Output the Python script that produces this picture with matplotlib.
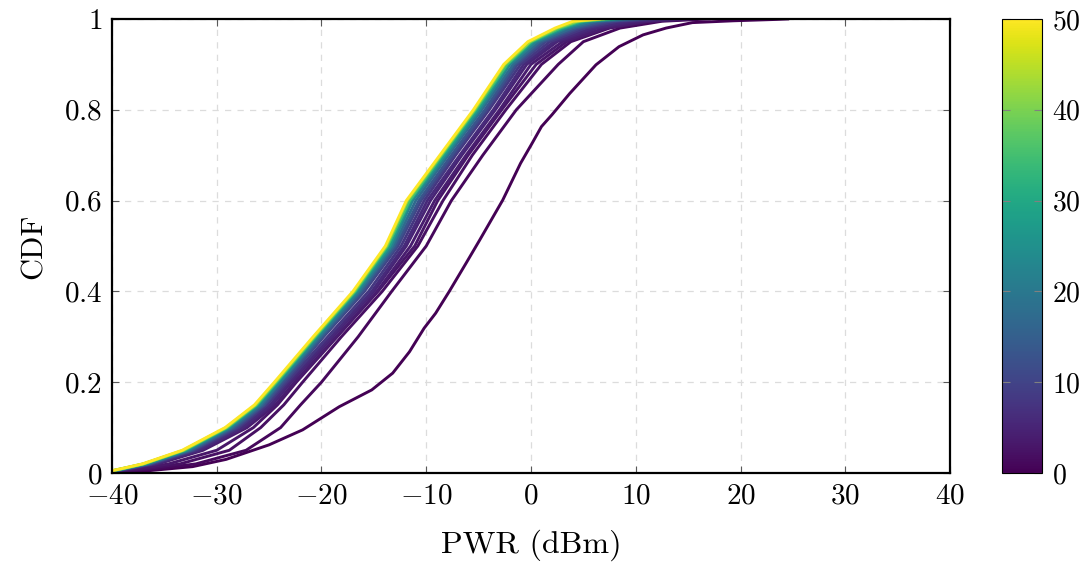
import matplotlib
matplotlib.use('Agg')
import matplotlib.pyplot as plt
from matplotlib import cm, colors, ticker

plt.rcParams['font.family'] = 'serif'
plt.rcParams['font.serif'] = ['cmr10', 'DejaVu Serif']
plt.rcParams['mathtext.fontset'] = 'cm'
plt.rcParams['axes.formatter.use_mathtext'] = True
plt.rcParams['axes.unicode_minus'] = False

# CDF levels shared by curves 1..50
levels = [0, 0.01, 0.02, 0.05, 0.1, 0.15, 0.2, 0.3, 0.4, 0.5, 0.6, 0.7, 0.8, 0.9, 0.95, 0.98, 0.995, 1.0]

# curve 0 was traced on its own, denser
levels_0 = [0, 0.005, 0.014, 0.03, 0.062, 0.095, 0.146, 0.183, 0.22, 0.267, 0.319, 0.352, 0.40, 0.462,
            0.513, 0.601, 0.682, 0.726, 0.763, 0.789, 0.836, 0.899, 0.939, 0.965, 0.98, 0.992, 0.996, 0.999, 1.0]
pwr_0 = [-40.5, -36.5, -32.3, -29.1, -25.0, -21.8, -18.3, -15.2, -13.2, -11.6, -10.2, -9.1, -7.8, -6.2,
         -4.9, -2.7, -1.0, 0.1, 1.0, 2.0, 3.7, 6.2, 8.4, 10.7, 12.9, 15.4, 19.3, 23.4, 24.5]

# PWR (dBm) at each CDF level, keyed by curve index
curve_ids = [1, 2, 3, 4, 5, 6, 8, 10, 13, 17, 22, 28, 35, 42, 50]
pwr_1 = [-40.5, -35.5, -32.0, -27.2, -23.9, -22.0, -20.0, -16.5, -13.3, -10.0, -7.6, -4.6, -1.4, 2.6, 5.0, 8.5, 12.5, 17.0]
pwr_2 = [-40.6, -36.5, -33.5, -28.8, -25.8, -23.6, -21.8, -18.1, -14.2, -10.8, -8.4, -5.6, -2.4, 1.0, 3.8, 7.5, 11.5, 15.5]
pwr_3 = [-40.6, -37.2, -34.6, -30.0, -26.5, -24.2, -22.4, -18.5, -14.6, -11.1, -8.9, -6.0, -2.8, 0.5, 3.4, 7.3, 11.3, 15.2]
pwr_4 = [-40.5, -38.0, -35.6, -31.3, -27.1, -24.4, -22.6, -18.6, -14.7, -11.5, -9.2, -6.2, -3.0, 0.0, 3.0, 7.0, 11.0, 15.0]
pwr_5 = [-40.6, -38.2, -35.8, -31.6, -27.4, -24.7, -22.9, -18.9, -15.0, -11.9, -9.6, -6.6, -3.4, -0.4, 2.5, 6.3, 10.0, 13.7]
pwr_6 = [-40.6, -38.3, -36.0, -31.8, -27.6, -24.9, -23.1, -19.1, -15.2, -12.1, -9.9, -6.8, -3.6, -0.7, 2.2, 5.8, 9.3, 12.9]
pwr_8 = [-40.7, -38.4, -36.2, -32.1, -27.9, -25.2, -23.3, -19.4, -15.5, -12.4, -10.2, -7.2, -4.0, -1.0, 1.8, 5.2, 8.3, 11.8]
pwr_10 = [-40.7, -38.5, -36.3, -32.3, -28.1, -25.4, -23.5, -19.8, -15.9, -12.7, -10.5, -7.4, -4.2, -1.3, 1.4, 4.7, 7.6, 10.9]
pwr_13 = [-40.8, -38.6, -36.5, -32.4, -28.3, -25.5, -23.7, -19.9, -16.1, -12.9, -10.7, -7.6, -4.4, -1.5, 1.1, 4.3, 7.0, 10.2]
pwr_17 = [-40.8, -38.7, -36.6, -32.6, -28.5, -25.7, -23.9, -20.1, -16.3, -13.1, -11.0, -7.9, -4.7, -1.7, 0.8, 3.9, 6.3, 9.3]
pwr_22 = [-40.9, -38.8, -36.7, -32.8, -28.7, -25.9, -24.0, -20.3, -16.5, -13.3, -11.3, -8.1, -4.9, -2.0, 0.5, 3.4, 5.7, 8.5]
pwr_28 = [-40.9, -38.8, -36.9, -33.0, -28.9, -26.1, -24.2, -20.5, -16.7, -13.5, -11.5, -8.3, -5.1, -2.2, 0.2, 3.1, 5.1, 7.9]
pwr_35 = [-41.0, -38.9, -37.0, -33.1, -29.0, -26.2, -24.3, -20.6, -16.8, -13.7, -11.6, -8.5, -5.3, -2.3, 0.0, 2.8, 4.7, 7.4]
pwr_42 = [-41.0, -39.0, -37.0, -33.2, -29.1, -26.3, -24.4, -20.7, -16.9, -13.8, -11.8, -8.6, -5.4, -2.5, -0.1, 2.5, 4.4, 6.9]
pwr_50 = [-41.0, -39.0, -37.1, -33.3, -29.2, -26.4, -24.5, -20.8, -17.0, -13.9, -11.9, -8.7, -5.5, -2.6, -0.3, 2.3, 4.0, 6.5]

curves = [pwr_1, pwr_2, pwr_3, pwr_4, pwr_5, pwr_6, pwr_8, pwr_10,
          pwr_13, pwr_17, pwr_22, pwr_28, pwr_35, pwr_42, pwr_50]

x_ticks = [-40, -30, -20, -10, 0, 10, 20, 30, 40]
y_ticks = [0, 0.2, 0.4, 0.6, 0.8, 1]
cbar_ticks = [0, 10, 20, 30, 40, 50]

fig = plt.figure(figsize=(10.88, 5.70), dpi=100)
ax = fig.add_axes([0.1029, 0.1702, 0.7703, 0.7965])
cax = fig.add_axes([0.921, 0.1702, 0.0368, 0.7965])

norm = colors.Normalize(vmin=0, vmax=50)
cmap = plt.get_cmap('viridis')
lw = 2.1

ax.plot(pwr_0, levels_0, color=cmap(norm(0)), linewidth=lw, solid_joinstyle='round')
for idx, pwr in zip(curve_ids, curves):
    ax.plot(pwr, levels, color=cmap(norm(idx)), linewidth=lw, solid_joinstyle='round')

ax.set_xlim(-40, 40)
ax.set_ylim(0, 1)
ax.set_xticks(x_ticks)
ax.set_yticks(y_ticks)
fmt = ticker.FuncFormatter(lambda v, _: f'${v:g}$')
ax.xaxis.set_major_formatter(fmt)
ax.yaxis.set_major_formatter(fmt)
ax.grid(True, color='#dcdcdc', linestyle=(0, (5, 5)), linewidth=0.9)
ax.set_axisbelow(True)
ax.tick_params(direction='in', length=5, width=0.8, color='0.35',
               top=True, right=True, labelsize=21, pad=7)
for sp in ax.spines.values():
    sp.set_linewidth(1.6)
ax.set_xlabel('PWR (dBm)', fontsize=23, labelpad=15)
ax.set_ylabel('CDF', fontsize=22, labelpad=12)

sm = cm.ScalarMappable(norm=norm, cmap=cmap)
cb = fig.colorbar(sm, cax=cax, ticks=cbar_ticks)
cb.ax.yaxis.set_major_formatter(fmt)
cb.ax.tick_params(direction='in', length=6, width=0.8, color='0.5',
                  left=True, right=True, labelsize=20, pad=7)
cb.outline.set_linewidth(0.8)

fig.savefig('out.png', dpi=100)
